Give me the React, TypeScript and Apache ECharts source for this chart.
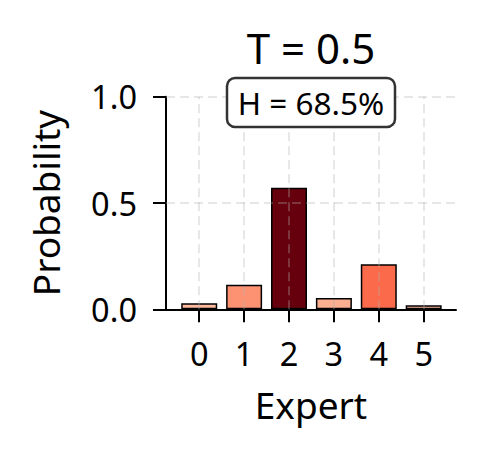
import { useEffect, useRef } from 'react';
import * as echarts from 'echarts';

const experts = [0, 1, 2, 3, 4, 5];
const probabilities = [0.029, 0.115, 0.572, 0.053, 0.212, 0.019];
const barColors = ['#fcbba1', '#fc9272', '#67000d', '#fcae91', '#fb6a4a', '#fcbca3'];
const yTicks = [0, 0.5, 1];
const titleText = 'T = 0.5';
const entropyText = 'H = 68.5%';

const FONT = '"Noto Sans", "Open Sans", sans-serif';
const GRID_COLOR = 'rgba(176,176,176,0.3)';

export default function App() {
  const chartRef = useRef<HTMLDivElement>(null);

  useEffect(() => {
    if (!chartRef.current) return;
    const chart = echarts.init(chartRef.current, undefined, { renderer: 'svg' });

    const option = {
      animation: false,
      backgroundColor: '#ffffff',
      textStyle: { fontFamily: FONT },
      grid: { left: 166, right: 28, top: 96.7, bottom: 144.7 },
      xAxis: {
        type: 'value',
        min: -0.74,
        max: 5.72,
        name: 'Expert',
        nameLocation: 'middle',
        nameGap: 77,
        nameTextStyle: { fontSize: 37, color: '#000', fontFamily: FONT },
        axisLine: { show: true, onZero: false, lineStyle: { color: '#000', width: 2 } },
        axisTick: {
          show: true,
          length: 13,
          lineStyle: { color: '#000', width: 2 },
          customValues: experts,
        },
        axisLabel: {
          show: true,
          margin: 28,
          fontSize: 32.5,
          color: '#000',
          fontFamily: FONT,
          customValues: experts,
          formatter: (v: number) => String(v),
        },
        splitLine: { show: false },
      },
      yAxis: {
        type: 'value',
        min: 0,
        max: 1,
        interval: 0.5,
        name: 'Probability',
        nameLocation: 'middle',
        nameGap: 102,
        nameTextStyle: { fontSize: 37, color: '#000', fontFamily: FONT },
        axisLine: { show: true, onZero: false, lineStyle: { color: '#000', width: 2 } },
        axisTick: { show: true, length: 13, lineStyle: { color: '#000', width: 2 } },
        axisLabel: {
          margin: 29,
          fontSize: 32.5,
          color: '#000',
          fontFamily: FONT,
          formatter: (v: number) => v.toFixed(1),
        },
        splitLine: { show: false },
      },
      series: [
        {
          type: 'bar',
          barWidth: 36,
          data: experts.map((e, i) => ({
            value: [e, probabilities[i]],
            itemStyle: { color: barColors[i], borderColor: '#000', borderWidth: 1.5 },
          })),
          markLine: {
            silent: true,
            symbol: ['none', 'none'],
            label: { show: false },
            z: 5,
            lineStyle: { color: GRID_COLOR, width: 2, type: [9, 5] },
            data: [
              ...experts.map((e) => ({ xAxis: e })),
              ...yTicks.filter((t) => t > 0).map((t) => ({ yAxis: t })),
            ],
          },
        },
      ],
      graphic: [
        {
          type: 'text',
          x: 311,
          y: 47.5,
          z: 10,
          style: {
            text: titleText,
            fontSize: 42,
            fontFamily: FONT,
            fill: '#000',
            align: 'center',
            verticalAlign: 'middle',
          },
        },
        {
          type: 'rect',
          z: 10,
          shape: { x: 227, y: 78, width: 168, height: 49, r: 8 },
          style: { fill: '#fff', stroke: '#333', lineWidth: 2.5 },
        },
        {
          type: 'text',
          x: 311,
          y: 102.5,
          z: 11,
          style: {
            text: entropyText,
            fontSize: 31.5,
            fontFamily: FONT,
            fill: '#000',
            align: 'center',
            verticalAlign: 'middle',
          },
        },
      ],
    };

    chart.setOption(option);

    return () => {
      chart.dispose();
    };
  }, []);

  return (
    <div
      ref={chartRef}
      style={{ position: 'absolute', left: 0, top: 0, width: 484, height: 454 }}
    />
  );
}
